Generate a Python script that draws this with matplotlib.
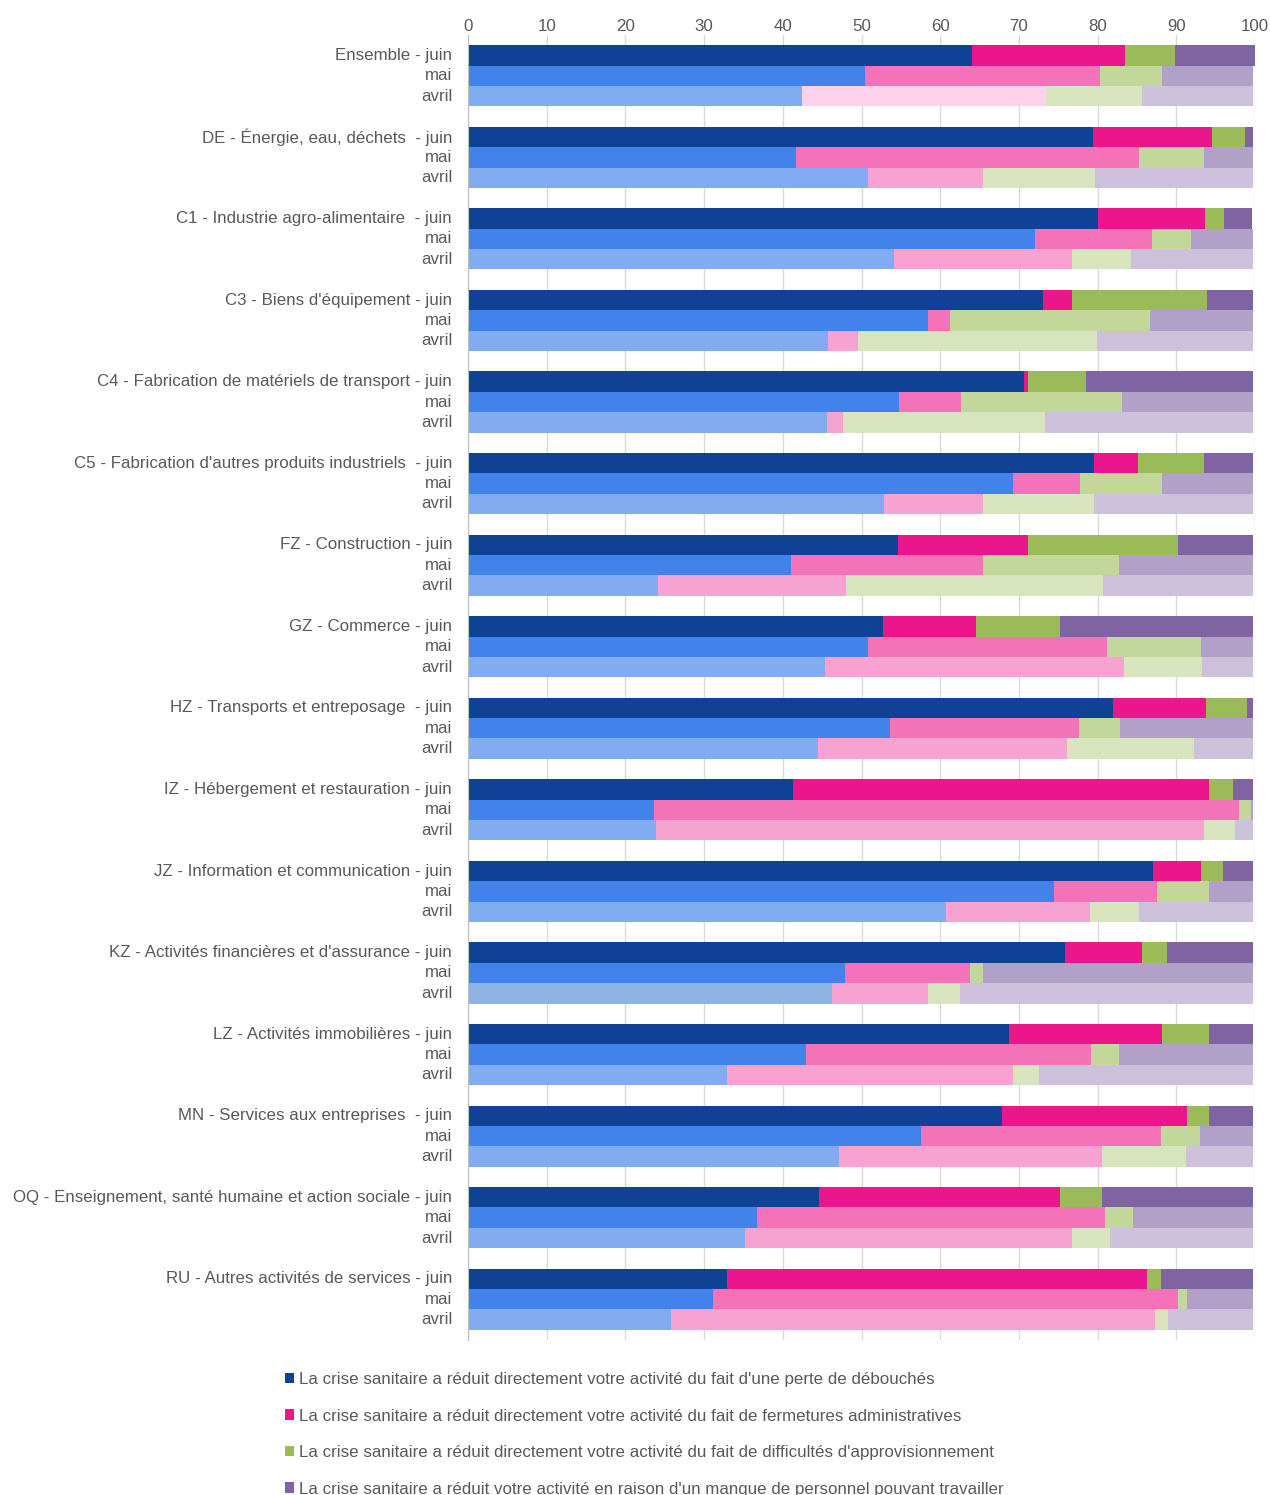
import matplotlib
matplotlib.use("Agg")
import matplotlib.pyplot as plt
from matplotlib.patches import Patch
import numpy as np

plt.rcParams['font.family'] = ['Liberation Sans', 'DejaVu Sans']

groups = ["Ensemble", "DE - Énergie, eau, déchets ", "C1 - Industrie agro-alimentaire ",
          "C3 - Biens d'équipement", "C4 - Fabrication de matériels de transport",
          "C5 - Fabrication d'autres produits industriels ", "FZ - Construction",
          "GZ - Commerce", "HZ - Transports et entreposage ", "IZ - Hébergement et restauration",
          "JZ - Information et communication", "KZ - Activités financières et d'assurance",
          "LZ - Activités immobilières", "MN - Services aux entreprises ",
          "OQ - Enseignement, santé humaine et action sociale", "RU - Autres activités de services"]
months = ["juin", "mai", "avril"]

series_labels = [
    "La crise sanitaire a réduit directement votre activité du fait d'une perte de débouchés",
    "La crise sanitaire a réduit directement votre activité du fait de fermetures administratives",
    "La crise sanitaire a réduit directement votre activité du fait de difficultés d'approvisionnement",
    "La crise sanitaire a réduit votre activité en raison d'un manque de personnel pouvant travailler",
]

# juin
juin_debouches = [64.0, 79.4, 80.1, 73.0, 70.7, 79.6, 54.7, 52.7, 81.9, 41.3, 87.1, 75.8, 68.8, 67.9, 44.6, 32.9]
juin_fermetures = [19.5, 15.1, 13.6, 3.7, 0.5, 5.5, 16.4, 11.9, 11.9, 52.9, 6.1, 9.8, 19.4, 23.4, 30.6, 53.4]
juin_approvisionnement = [6.3, 4.2, 2.4, 17.2, 7.3, 8.4, 19.1, 10.6, 5.2, 3.0, 2.7, 3.2, 6.0, 2.9, 5.3, 1.7]
juin_personnel = [10.2, 1.1, 3.5, 5.9, 21.3, 6.3, 9.6, 24.6, 0.8, 2.6, 3.9, 11.0, 5.5, 5.6, 19.3, 11.8]
# mai
mai_debouches = [50.4, 41.7, 72.1, 58.4, 54.8, 69.2, 41.0, 50.8, 53.6, 23.6, 74.4, 47.9, 42.9, 57.5, 36.7, 31.1]
mai_fermetures = [29.9, 43.6, 14.8, 2.8, 7.8, 8.6, 24.5, 30.4, 24.0, 74.4, 13.2, 15.9, 36.3, 30.5, 44.2, 59.1]
mai_approvisionnement = [7.9, 8.2, 5.0, 25.4, 20.5, 10.4, 17.2, 12.0, 5.2, 1.5, 6.5, 1.7, 3.5, 5.0, 3.6, 1.2]
mai_personnel = [11.6, 6.3, 7.9, 13.1, 16.6, 11.6, 17.1, 6.5, 17.0, 0.3, 5.7, 34.3, 17.1, 6.8, 15.3, 8.4]
# avril
avril_debouches = [42.4, 50.8, 54.1, 45.7, 45.6, 52.9, 24.2, 45.4, 44.5, 23.9, 60.7, 46.3, 32.9, 47.2, 35.2, 25.8]
avril_fermetures = [31.0, 14.7, 22.6, 3.9, 2.0, 12.5, 23.8, 37.9, 31.6, 69.6, 18.3, 12.2, 36.4, 33.3, 41.5, 61.5]
avril_approvisionnement = [12.2, 14.2, 7.5, 30.3, 25.7, 14.1, 32.7, 10.0, 16.2, 4.0, 6.3, 4.0, 3.3, 10.7, 4.9, 1.7]
avril_personnel = [14.1, 20.1, 15.6, 19.9, 26.5, 20.2, 19.1, 6.5, 7.4, 2.2, 14.5, 37.3, 27.2, 8.6, 18.2, 10.8]

data = {
    "juin": [juin_debouches, juin_fermetures, juin_approvisionnement, juin_personnel],
    "mai": [mai_debouches, mai_fermetures, mai_approvisionnement, mai_personnel],
    "avril": [avril_debouches, avril_fermetures, avril_approvisionnement, avril_personnel],
}
colors = {
    "juin": ["#0F4195", "#EB168C", "#9BBB59", "#8064A2"],
    "mai": ["#4183EB", "#F472B8", "#C4D79B", "#B1A0C7"],
    "avril": ["#82ACF2", "#F6A3D1", "#D8E4BD", "#CCC0DA"],
}
special = {("avril", 0, 1): "#FBD2EA", ("avril", 11, 0): "#8EB4E3"}

fig = plt.figure(figsize=(12.7, 14.95), dpi=100)
ax = fig.add_axes([468/1270, 1 - 1340/1495, (1255-468)/1270, (1340-35)/1495])

ngroups = len(groups)
for mi, m in enumerate(months):
    pos = np.arange(ngroups) * 4 + mi
    left = np.zeros(ngroups)
    for si in range(4):
        vals = np.array(data[m][si])
        cols = [special.get((m, g, si), colors[m][si]) for g in range(ngroups)]
        ax.barh(pos, vals, left=left, height=1.0, color=cols, linewidth=0, zorder=3)
        left += vals

ticks = []
labels = []
for g, name in enumerate(groups):
    for mi, m in enumerate(months):
        ticks.append(g * 4 + mi)
        labels.append(f"{name} - {m}" if mi == 0 else m)
ax.set_yticks(ticks)
ax.set_yticklabels(labels)
ax.set_ylim(63.0, -1.0)
ax.set_xlim(0, 100)
ax.set_xticks(np.arange(0, 101, 10))
ax.xaxis.tick_top()
ax.tick_params(axis='both', length=0, labelsize=12.2, colors='#595959')
ax.tick_params(axis='y', pad=11.5)
ax.tick_params(axis='x', pad=1)
for lbl in ax.get_yticklabels():
    lbl.set_va('center')
ax.grid(axis='x', color='#D9D9D9', linewidth=1, zorder=0)
for s in ['top', 'right', 'bottom']:
    ax.spines[s].set_visible(False)
ax.spines['left'].set_color('#BFBFBF')
ax.spines['left'].set_zorder(4)

handles = [Patch(facecolor=c, edgecolor='none') for c in colors["juin"]]
fig.legend(handles, series_labels, loc='upper left',
           bbox_to_anchor=(285/1270, 1 - 1372/1495), frameon=False,
           fontsize=12.2, labelcolor='#595959', handlelength=0.55, handleheight=0.55,
           handletextpad=0.25, labelspacing=1.27, borderpad=0, borderaxespad=0)

fig.savefig("out.png", dpi=100)
